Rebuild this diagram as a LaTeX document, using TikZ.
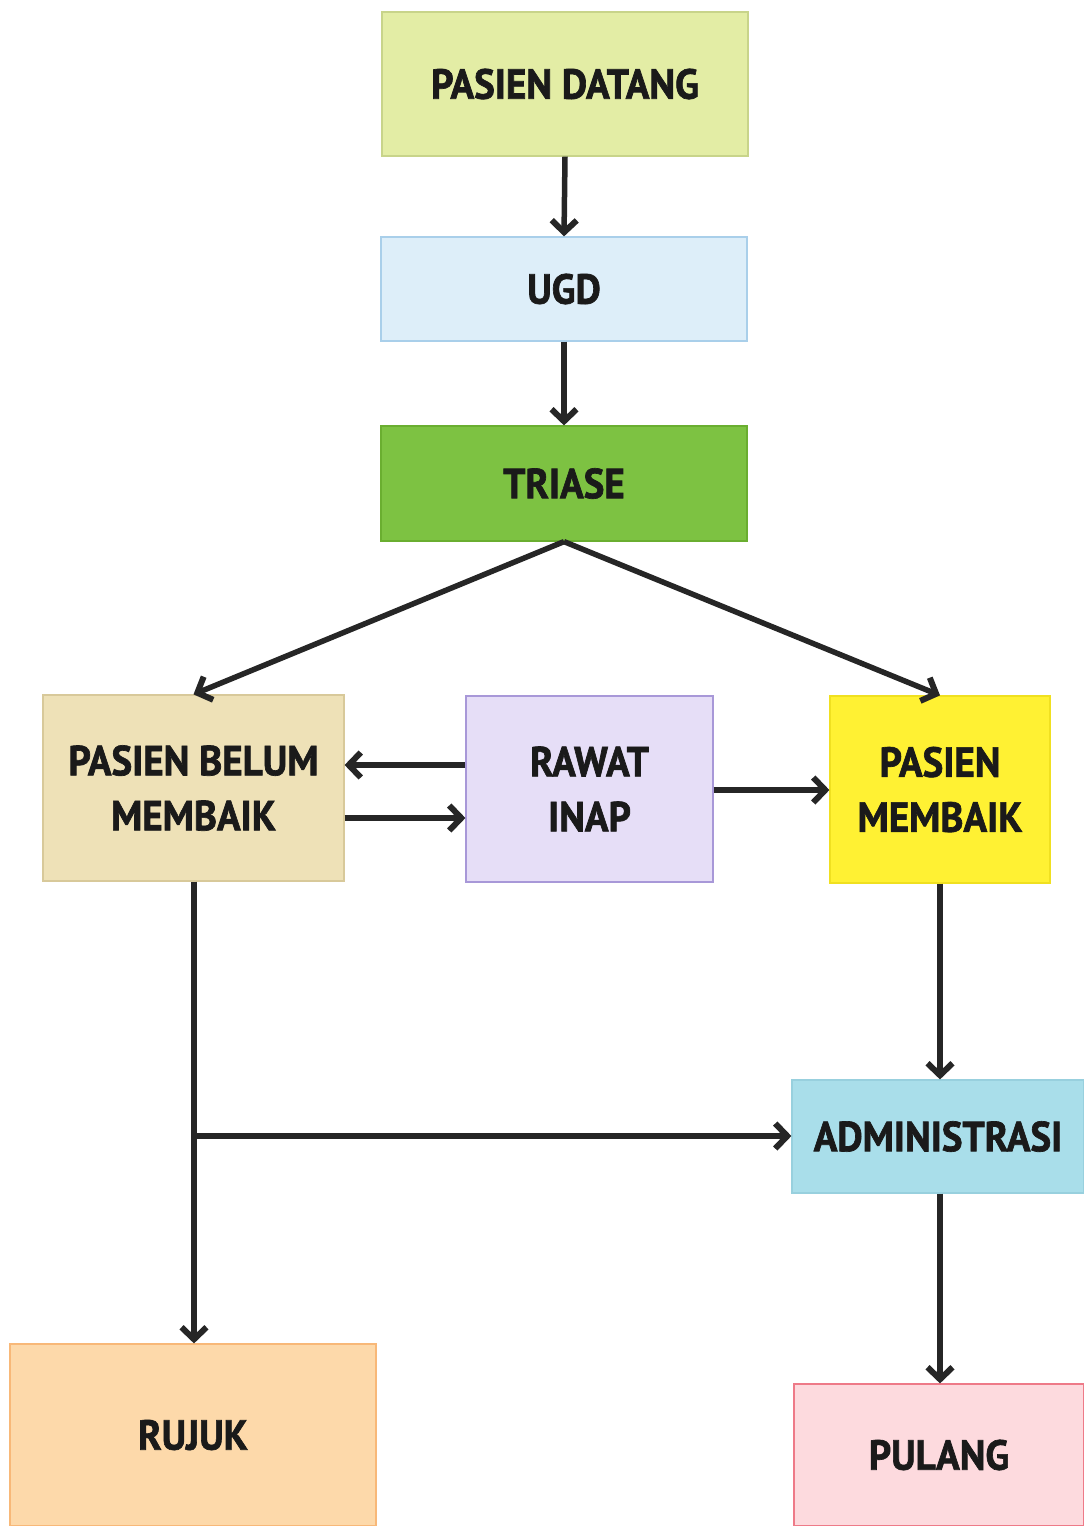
\documentclass[tikz,border=0pt]{standalone}
\usepackage{fontspec}
\newfontfamily\labfont[FakeStretch=0.93,FakeBold=1.6]{PT Sans Bold}
\usetikzlibrary{arrows.meta,positioning}
\definecolor{txt}{HTML}{1A1A1A}
\definecolor{arr}{HTML}{262626}
\definecolor{fDatang}{HTML}{E3EDA5}\definecolor{dDatang}{HTML}{C8D48A}
\definecolor{fUgd}{HTML}{DDEEF9}\definecolor{dUgd}{HTML}{A9CFEA}
\definecolor{fTriase}{HTML}{7DC242}\definecolor{dTriase}{HTML}{6AAE30}
\definecolor{fPbm}{HTML}{EEE1B7}\definecolor{dPbm}{HTML}{D8C99A}
\definecolor{fRi}{HTML}{E6DEF7}\definecolor{dRi}{HTML}{A898D8}
\definecolor{fPm}{HTML}{FFF133}\definecolor{dPm}{HTML}{F0E020}
\definecolor{fAdm}{HTML}{A9DEEA}\definecolor{dAdm}{HTML}{98D0DE}
\definecolor{fRujuk}{HTML}{FDD9AA}\definecolor{dRujuk}{HTML}{F8B878}
\definecolor{fPulang}{HTML}{FDDADE}\definecolor{dPulang}{HTML}{EE7A88}
\tikzset{
  box/.style={rectangle, draw, line width=1.2pt, inner sep=0pt, align=center,
    font=\labfont\fontsize{42}{55}\selectfont, text=txt},
  conn/.style={draw=arr, line width=5.5pt,
    -{Straight Barb[length=12pt,width=25pt,line width=6pt]}}
}
\begin{document}
\begin{tikzpicture}[x=1pt,y=-1pt]
\useasboundingbox (0,0) rectangle (1084,1526);
\node[box, fill=fDatang, draw=dDatang, minimum width=366, minimum height=144] (datang) at (565,84) {PASIEN DATANG};
\node[box, fill=fUgd, draw=dUgd, minimum width=366, minimum height=104] (ugd) at (564,289) {UGD};
\node[box, fill=fTriase, draw=dTriase, minimum width=366, minimum height=115] (triase) at (564,483.5) {TRIASE};
\node[box, fill=fPbm, draw=dPbm, minimum width=301, minimum height=186] (pbm) at (193.5,788) {PASIEN BELUM\\MEMBAIK};
\node[box, fill=fRi, draw=dRi, minimum width=247, minimum height=186] (ri) at (589.5,789) {RAWAT\\INAP};
\node[box, fill=fPm, draw=dPm, minimum width=220, minimum height=187] (pm) at (940,789.5) {PASIEN\\MEMBAIK};
\node[box, fill=fAdm, draw=dAdm, minimum width=292, minimum height=113] (adm) at (938,1136.5) {ADMINISTRASI};
\node[box, fill=fRujuk, draw=dRujuk, minimum width=366, minimum height=182] (rujuk) at (193,1435) {RUJUK};
\node[box, fill=fPulang, draw=dPulang, minimum width=290, minimum height=142] (pulang) at (939,1455) {PULANG};
\coordinate (ya) at (0,765);
\coordinate (yb) at (0,818);
\coordinate (yc) at (0,790);
\coordinate (yd) at (0,1136);
\coordinate (xl) at (194,0);
\coordinate (xr) at (940,0);
\draw[conn] (datang.south) -- (ugd.north);
\draw[conn] (ugd.south) -- (triase.north);
\draw[conn] (triase.south) -- (pbm.north);
\draw[conn] (triase.south) -- (pm.north);
\draw[conn] (ri.west |- ya) -- (pbm.east |- ya);
\draw[conn] (pbm.east |- yb) -- (ri.west |- yb);
\draw[conn] (ri.east |- yc) -- (pm.west |- yc);
\draw[conn] (pbm.south -| xl) -- (rujuk.north -| xl);
\draw[conn] (xl |- yd) -- (adm.west |- yd);
\draw[conn] (pm.south -| xr) -- (adm.north -| xr);
\draw[conn] (adm.south -| xr) -- (pulang.north -| xr);
\end{tikzpicture}
\end{document}
